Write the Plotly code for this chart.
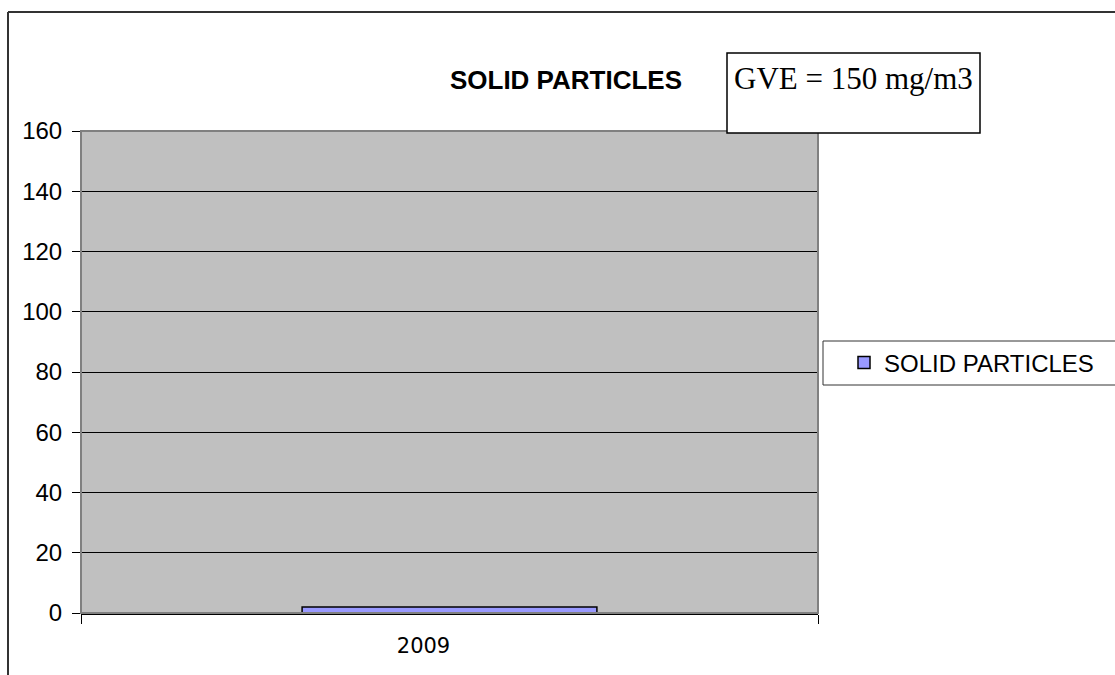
import plotly.graph_objects as go

categories = ["2009"]
values = [2]
series_name = "SOLID PARTICLES"
chart_title = "SOLID PARTICLES"
note_text = "GVE = 150 mg/m3"
y_ticks = [0, 20, 40, 60, 80, 100, 120, 140, 160]

W, H = 1115, 675
L, R, T, B = 81, 818, 131, 613
pw, ph = R - L, B - T

def px(x):
    return (x - L) / pw

def py(y):
    return (B - y) / ph

fig = go.Figure()
fig.add_trace(go.Bar(
    x=categories, y=values, name=series_name,
    marker=dict(color="#9999FF", line=dict(color="black", width=1.5)),
    showlegend=True,
))

shapes = [
    # plot border (gray)
    dict(type="rect", xref="paper", yref="paper", x0=0, x1=1, y0=0, y1=1,
         line=dict(color="#808080", width=2), layer="above"),
    # outer chart border
    dict(type="line", xref="paper", yref="paper", x0=px(8), x1=px(8), y0=py(700), y1=py(12),
         line=dict(color="#333333", width=2)),
    dict(type="line", xref="paper", yref="paper", x0=px(8), x1=px(1140), y0=py(12), y1=py(12),
         line=dict(color="#333333", width=2)),
    # GVE box
    dict(type="rect", xref="paper", yref="paper", x0=px(727), x1=px(980), y0=py(133), y1=py(53),
         line=dict(color="black", width=1.5), fillcolor="white", layer="above"),
    # legend box
    dict(type="rect", xref="paper", yref="paper", x0=px(823), x1=px(1140), y0=py(385), y1=py(341),
         line=dict(color="#333333", width=1), fillcolor="white", layer="below"),
]

fig.update_layout(
    width=W, height=H,
    margin=dict(l=L, r=W - R, t=T, b=H - B, pad=0),
    paper_bgcolor="white",
    plot_bgcolor="#C0C0C0",
    bargap=0.6,
    title=dict(text="<b>%s</b>" % chart_title, xref="container", yref="container",
               x=566 / W, xanchor="center", y=1 - 80 / H, yanchor="middle",
               font=dict(family="Arial, Liberation Sans", size=26, color="black")),
    showlegend=True,
    legend=dict(x=px(844), xanchor="left", y=py(363), yanchor="middle",
                bgcolor="rgba(0,0,0,0)", borderwidth=0,
                font=dict(family="Arial, Liberation Sans", size=24, color="black")),
    shapes=shapes,
    annotations=[dict(text=note_text, xref="paper", yref="paper", x=px(732), y=py(79),
                      xanchor="left", yanchor="middle", showarrow=False,
                      font=dict(family="Liberation Serif, Times New Roman", size=31, color="black"))],
    xaxis=dict(type="category", tickson="boundaries", ticks="outside", ticklen=9,
               tickcolor="black", tickwidth=1, showline=True, linecolor="black", linewidth=1.5,
               showgrid=False, ticklabelshift=-26, ticklabelstandoff=13,
               tickfont=dict(family="DejaVu Sans", size=21, color="black")),
    yaxis=dict(range=[0, 160], tickvals=y_ticks, ticks="outside", ticklen=8,
               tickcolor="black", tickwidth=1, showgrid=True, gridcolor="black", gridwidth=1,
               showline=False, zeroline=False, ticklabelstandoff=5,
               tickfont=dict(family="Arial, Liberation Sans", size=24, color="black")),
)

fig.write_html("out.html", post_script="document.body.style.margin='0';",
               config={"displayModeBar": False})
